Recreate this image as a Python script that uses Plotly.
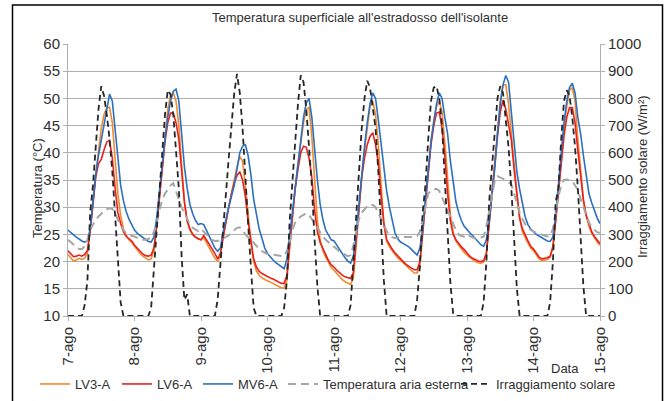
import pandas as pd
import plotly.graph_objects as go

# ---------------- data (hourly readings, 7-ago 00:00 -> 15-ago 00:00) ----------------
day_labels = ["7-ago", "8-ago", "9-ago", "10-ago", "11-ago", "12-ago", "13-ago", "14-ago", "15-ago"]
day_dates = ["2014-08-%02d" % d for d in range(7, 16)]

lv3_a = [
    21.3, 20.7, 20.1, 20.3, 20.6, 20.4, 20.6, 21.5, 25.5, 30.5, 36.0, 40.5, 44.5, 47.0, 48.3, 48.4, 45.5, 39.0, 32.5, 28.5, 26.0, 24.8, 24.0, 23.5,
    22.8, 22.2, 21.5, 21.0, 20.6, 20.3, 20.5, 22.0, 26.5, 32.0, 38.0, 43.5, 48.0, 50.5, 51.0, 49.5, 45.0, 38.0, 31.0, 27.5, 25.8, 25.0, 24.5, 24.2,
    24.0, 24.4, 23.5, 22.5, 21.5, 20.6, 20.1, 21.0, 24.5, 27.5, 30.0, 32.5, 35.0, 37.5, 39.3, 38.5, 34.0, 28.5, 23.5, 20.0, 18.3, 17.5, 17.0, 16.7,
    16.5, 16.2, 16.0, 15.7, 15.4, 15.2, 15.1, 16.5, 22.5, 28.5, 33.5, 38.0, 42.0, 45.5, 48.0, 48.3, 43.0, 34.5, 27.5, 24.0, 22.0, 20.8, 19.8, 18.9,
    18.4, 17.8, 17.2, 16.7, 16.3, 16.0, 15.8, 17.0, 23.5, 30.0, 35.5, 40.5, 45.0, 48.5, 49.5, 47.0, 41.5, 33.5, 27.0, 23.8, 22.7, 22.0, 21.3, 20.7,
    20.2, 19.8, 19.3, 18.8, 18.3, 17.9, 17.9, 19.5, 25.0, 31.0, 37.0, 42.0, 46.0, 48.5, 49.4, 47.5, 42.0, 34.5, 28.5, 25.3, 23.8, 23.0, 22.3, 21.7,
    21.2, 20.8, 20.4, 20.0, 19.8, 19.7, 19.9, 21.5, 27.0, 32.5, 37.5, 44.0, 49.5, 52.5, 52.5, 49.0, 44.0, 38.0, 32.5, 28.0, 25.5, 24.3, 23.4, 22.5,
    22.0, 21.3, 20.5, 20.2, 20.3, 20.4, 20.8, 22.5, 27.5, 33.0, 39.0, 44.5, 48.5, 51.5, 52.0, 49.5, 42.5, 36.5, 31.5, 28.5, 26.5, 25.2, 24.3, 23.6,
    23.0,
]

lv6_a = [
    22.0, 21.5, 20.9, 21.0, 21.2, 21.0, 21.3, 22.0, 25.5, 30.5, 35.5, 38.0, 38.8, 40.5, 42.0, 42.3, 39.0, 33.5, 29.0, 27.0, 25.5, 24.6, 24.2, 23.8,
    23.0, 22.4, 21.8, 21.4, 21.1, 21.0, 21.2, 22.5, 26.5, 32.0, 37.5, 42.0, 45.5, 47.3, 47.3, 45.5, 42.5, 36.0, 31.0, 27.5, 26.0, 25.0, 24.5, 24.2,
    24.0, 24.8, 24.0, 23.2, 22.3, 21.5, 20.5, 21.5, 24.5, 27.5, 30.0, 32.5, 34.5, 35.8, 36.5, 35.0, 32.0, 27.5, 23.5, 20.5, 19.0, 18.2, 17.8, 17.5,
    17.3, 17.0, 16.8, 16.5, 16.2, 16.0, 16.0, 17.5, 23.0, 29.0, 33.5, 37.0, 40.0, 41.2, 41.0, 39.0, 35.5, 29.5, 25.5, 23.5, 22.3, 21.2, 20.2, 19.4,
    19.0, 18.4, 17.9, 17.5, 17.2, 17.0, 16.9, 18.0, 24.0, 30.5, 35.5, 39.0, 41.5, 43.0, 43.7, 41.5, 38.0, 32.0, 27.0, 24.0, 23.0, 22.3, 21.6, 21.0,
    20.5, 20.0, 19.5, 19.1, 18.8, 18.5, 18.5, 20.0, 25.5, 31.5, 37.0, 41.5, 45.0, 47.3, 47.5, 44.5, 39.5, 32.5, 27.5, 25.0, 24.0, 23.3, 22.7, 22.2,
    21.5, 21.0, 20.6, 20.3, 20.1, 20.0, 20.2, 21.5, 27.0, 32.5, 37.5, 43.0, 47.5, 49.7, 48.0, 45.0, 42.4, 37.0, 32.5, 28.0, 26.0, 24.8, 23.8, 22.8,
    22.3, 21.6, 20.8, 20.5, 20.6, 20.7, 21.0, 22.8, 27.5, 33.0, 38.5, 43.0, 46.5, 48.3, 48.3, 45.5, 40.5, 35.5, 31.3, 28.5, 26.8, 25.5, 24.6, 23.9,
    23.3,
]

mv6_a = [
    25.8, 25.3, 24.9, 24.5, 24.1, 23.8, 23.6, 23.8, 26.0, 31.0, 36.0, 39.5, 42.5, 45.0, 48.5, 50.8, 49.5, 44.5, 38.5, 34.0, 31.2, 29.2, 27.8, 26.7,
    25.8, 25.2, 24.8, 24.4, 24.0, 23.7, 23.6, 24.5, 28.0, 33.0, 38.0, 42.5, 46.5, 49.5, 51.3, 51.7, 49.5, 43.5, 37.5, 33.5, 30.5, 28.8, 27.6, 26.8,
    27.0, 26.8, 25.8, 24.8, 23.5, 22.5, 21.9, 22.5, 25.5, 28.0, 30.0, 32.0, 34.0, 37.0, 40.0, 41.2, 41.5, 39.5, 36.0, 31.5, 29.0, 26.0, 24.3, 22.5,
    21.5, 20.8, 20.3, 19.8, 19.4, 19.0, 18.7, 20.5, 25.0, 29.5, 33.5, 38.0, 42.5, 46.5, 49.2, 50.0, 46.5, 40.0, 35.0, 30.5, 27.7, 25.8, 24.8, 24.0,
    23.8, 23.0, 22.3, 21.5, 20.7, 20.1, 19.7, 21.0, 25.0, 30.5, 36.0, 41.0, 45.5, 49.0, 51.0, 50.0, 46.0, 41.5, 37.0, 33.0, 30.0, 27.5, 25.3, 24.2,
    23.6, 23.3, 23.0, 22.7, 22.2, 21.6, 21.2, 22.5, 26.0, 31.5, 37.5, 42.0, 45.5, 49.0, 51.0, 50.0, 46.5, 43.5, 38.5, 34.5, 31.0, 29.0, 27.5, 26.5,
    25.8, 25.3, 24.8, 24.2, 23.6, 23.1, 22.8, 24.0, 27.5, 32.5, 37.0, 43.5, 49.0, 52.5, 54.2, 53.0, 47.5, 42.0, 36.5, 33.3, 30.5, 28.2, 26.8, 26.0,
    25.5, 25.0, 24.7, 24.4, 24.1, 23.8, 23.7, 24.5, 28.5, 34.0, 40.0, 45.5, 49.5, 52.0, 52.8, 51.0, 46.5, 43.5, 39.5, 35.5, 32.5, 30.8, 29.3, 28.0,
    27.0,
]

aria_esterna = [
    24.0, 23.6, 23.2, 22.8, 22.3, 22.3, 22.8, 24.0, 25.8, 26.8, 27.7, 28.3, 28.9, 29.3, 29.6, 29.8, 29.7, 29.0, 27.7, 26.7, 25.8, 25.2, 24.9, 24.7,
    24.6, 24.3, 24.1, 24.0, 24.0, 24.2, 24.3, 25.5, 27.0, 29.5, 31.3, 32.5, 33.3, 34.0, 34.4, 33.0, 31.5, 30.0, 29.0, 27.8, 26.8, 26.2, 25.9, 25.6,
    26.0, 25.5, 25.0, 24.4, 24.0, 23.8, 23.8, 24.0, 24.3, 24.6, 24.8, 25.3, 25.8, 26.2, 26.3, 25.8, 25.0, 24.4, 24.0, 23.5, 22.8, 22.3, 21.9, 21.6,
    21.4, 21.3, 21.3, 21.2, 21.1, 21.0, 21.0, 22.0, 23.5, 25.8, 27.2, 27.8, 28.3, 28.6, 28.9, 28.6, 27.8, 27.0, 26.0, 25.2, 24.6, 24.0, 23.6, 23.2,
    22.8, 22.3, 21.8, 21.5, 21.2, 21.0, 21.2, 23.0, 25.5, 27.8, 29.0, 29.6, 30.2, 30.5, 30.4, 30.0, 29.0, 27.8, 26.8, 25.6, 24.8, 24.5, 24.3, 24.4,
    24.6, 24.5, 24.5, 24.4, 24.5, 24.6, 24.7, 25.5, 27.5, 30.0, 32.5, 33.0, 33.3, 33.4, 33.0, 31.8, 30.5, 29.2, 28.0, 26.8, 25.8, 25.0, 24.7, 24.6,
    25.0, 24.7, 24.4, 24.2, 24.3, 24.5, 24.6, 26.5, 29.5, 32.5, 34.8, 35.7, 35.5, 35.3, 35.0, 34.6, 34.2, 32.5, 30.8, 29.0, 27.8, 26.9, 26.3, 25.8,
    25.5, 25.3, 25.2, 25.0, 24.8, 24.6, 24.7, 26.0, 29.0, 32.0, 34.0, 35.0, 35.1, 35.0, 34.8, 34.0, 33.2, 31.5, 30.0, 28.5, 27.2, 26.3, 25.8, 25.4,
    25.3,
]

irraggiamento = [
    0, 0, 0, 0, 0, 0, 40, 130, 380, 480, 620, 760, 845, 810, 740, 650, 530, 380, 200, 50, 0, 0, 0, 0,
    0, 0, 0, 0, 0, 0, 30, 170, 320, 460, 590, 740, 830, 815, 740, 620, 470, 220, 60, 80, 0, 0, 0, 0,
    0, 0, 0, 0, 0, 0, 60, 200, 330, 450, 580, 710, 820, 890, 820, 690, 500, 340, 180, 30, 0, 0, 0, 0,
    0, 0, 0, 0, 0, 0, 30, 130, 350, 480, 640, 780, 885, 860, 760, 620, 480, 280, 110, 0, 0, 0, 0, 0,
    0, 0, 0, 0, 0, 0, 40, 200, 370, 510, 690, 800, 865, 840, 760, 690, 530, 330, 130, 0, 0, 0, 0, 0,
    0, 0, 0, 0, 0, 0, 60, 180, 380, 480, 650, 790, 840, 845, 800, 700, 500, 320, 120, 10, 0, 0, 0, 0,
    0, 0, 0, 0, 0, 0, 50, 200, 420, 540, 660, 800, 845, 820, 720, 620, 470, 300, 100, 0, 0, 0, 0, 0,
    0, 0, 0, 0, 0, 0, 50, 200, 420, 470, 650, 790, 830, 810, 730, 620, 470, 300, 110, 0, 0, 0, 0, 0,
    0,
]

times = pd.date_range(day_dates[0], day_dates[-1], freq="h")

# ---------------- styling ----------------
FONT = "Liberation Sans, Arial, sans-serif"
GRID = "#b0b0b0"
TXT = "#303030"

# plot area in pixels: x 68..600, y 44..316
L, R, T, B = 68, 600, 44, 316
W, H = 670, 401
pw, ph = R - L, B - T


def px(xp):
    return (xp - L) / pw


def py(yp):
    return (B - yp) / ph


series = [
    ("LV3-A", lv3_a, "y", dict(color="#f28a2e", width=1.6), 35),
    ("LV6-A", lv6_a, "y", dict(color="#e8211d", width=1.6), 117),
    ("MV6-A", mv6_a, "y", dict(color="#2b70c0", width=1.6), 198),
    ("Temperatura aria esterna", aria_esterna, "y", dict(color="#a6a6a6", width=2, dash="8px,5px"), 283),
    ("Irraggiamento solare", irraggiamento, "y2", dict(color="#262626", width=1.8, dash="6px,4px"), 456),
]

fig = go.Figure()
legends = {}
for i, (name, vals, yax, line, lx) in enumerate(series):
    key = "legend" if i == 0 else "legend%d" % (i + 1)
    fig.add_trace(go.Scatter(x=times, y=vals, name=name, mode="lines", yaxis=yax,
                             line=line, legend=key))
    legends[key] = dict(orientation="h", xref="container", yref="container",
                        x=lx / W, xanchor="left", y=1 - 384 / H, yanchor="middle",
                        font=dict(family=FONT, size=13, color=TXT), itemwidth=30,
                        bgcolor="rgba(0,0,0,0)", borderwidth=0)

fig.update_layout(
    width=W, height=H,
    margin=dict(l=L, r=W - R, t=T, b=H - B, pad=0, autoexpand=False),
    paper_bgcolor="white", plot_bgcolor="white",
    font=dict(family=FONT, size=13, color=TXT),
    showlegend=True,
    xaxis=dict(
        range=[day_dates[0], day_dates[-1]], automargin=False,
        tickvals=day_dates, ticktext=day_labels, tickangle=-90,
        tickfont=dict(family=FONT, size=15, color=TXT),
        showgrid=False, zeroline=False,
        showline=True, linecolor=GRID, linewidth=1,
        ticks="outside", ticklen=4, tickcolor=GRID,
    ),
    yaxis=dict(
        range=[10, 60], dtick=5, tick0=10, automargin=False,
        tickfont=dict(family=FONT, size=15, color=TXT),
        showgrid=True, gridcolor=GRID, gridwidth=1,
        zeroline=False, showline=True, linecolor=GRID, linewidth=1,
        ticks="outside", ticklen=4, tickcolor=GRID,
    ),
    yaxis2=dict(
        range=[0, 1000], dtick=100, tick0=0, overlaying="y", side="right", automargin=False,
        tickfont=dict(family=FONT, size=15, color=TXT),
        showgrid=False, zeroline=False, showline=True, linecolor=GRID, linewidth=1,
        ticks="outside", ticklen=4, tickcolor=GRID,
    ),
    shapes=[
        dict(type="rect", xref="paper", yref="paper",
             x0=px(12.5), x1=px(662.5), y0=py(404), y1=py(5),
             line=dict(color="black", width=1.5), fillcolor="rgba(0,0,0,0)", layer="above"),
    ],
    annotations=[
        dict(text="Temperatura superficiale all'estradosso dell'isolante", xref="paper", yref="paper",
             x=px(360), y=py(18), xanchor="center", yanchor="middle", showarrow=False,
             font=dict(family=FONT, size=13, color=TXT)),
        dict(text="Temperatura (°C)", xref="paper", yref="paper", x=px(37), y=py(188),
             xanchor="center", yanchor="middle", textangle=-90, showarrow=False,
             font=dict(family=FONT, size=13, color=TXT)),
        dict(text="Irraggiamento solare (W/m²)", xref="paper", yref="paper", x=px(642), y=py(177),
             xanchor="center", yanchor="middle", textangle=-90, showarrow=False,
             font=dict(family=FONT, size=13, color=TXT)),
        dict(text="Data", xref="paper", yref="paper", x=px(565), y=py(368),
             xanchor="center", yanchor="middle", showarrow=False,
             font=dict(family=FONT, size=13, color=TXT)),
    ],
)
fig.update_layout(**legends)

fig.write_html("out.html")
